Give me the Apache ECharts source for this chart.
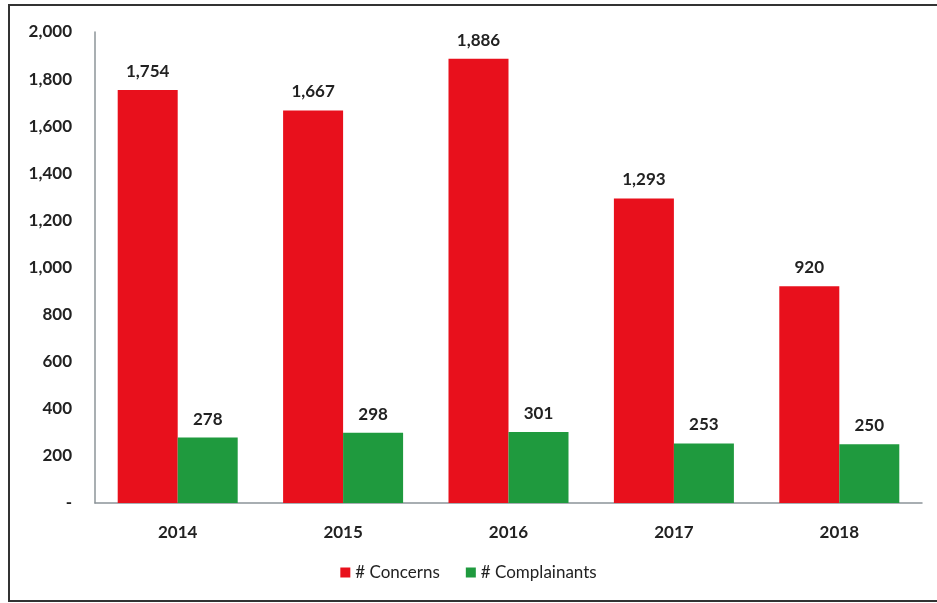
<!DOCTYPE html>
<html>
<head>
<meta charset="utf-8">
<style>
  html, body { margin: 0; padding: 0; background: #fff; }
  #chart { width: 937px; height: 603px; }
</style>
<script src="https://cdn.jsdelivr.net/npm/echarts@6/dist/echarts.min.js"></script>
</head>
<body>
<div id="chart"></div>
<script>
const years = ['2014', '2015', '2016', '2017', '2018'];
const concerns = [1754, 1667, 1886, 1293, 920];
const complainants = [278, 298, 301, 253, 250];
const yTicks = [0, 200, 400, 600, 800, 1000, 1200, 1400, 1600, 1800, 2000];

const FONT = 'Lato, "Open Sans", "Liberation Sans", sans-serif';
const chart = echarts.init(document.getElementById('chart'));

function fmt(v) {
  return v === 0 ? '-' : v.toLocaleString('en-US');
}

const labelStyle = {
  show: true,
  position: 'top',
  distance: 10,
  fontFamily: FONT,
  fontSize: 17,
  fontWeight: 'bold',
  color: '#222',
  formatter: p => fmt(p.value)
};

chart.setOption({
  animation: false,
  backgroundColor: '#fff',
  graphic: [{
    type: 'rect',
    shape: { x: 9, y: 5, width: 940, height: 596 },
    style: { fill: 'none', stroke: '#333', lineWidth: 2 },
    silent: true,
    z: -1
  }],
  grid: { left: 95, right: 15, top: 32, bottom: 100, containLabel: false },
  legend: {
    bottom: 17,
    left: 'center',
    itemWidth: 10,
    itemHeight: 10,
    itemGap: 26,
    icon: 'rect',
    textStyle: { fontFamily: FONT, fontSize: 17, color: '#222' },
    data: ['# Concerns', '# Complainants']
  },
  xAxis: {
    type: 'category',
    data: years,
    axisLine: { lineStyle: { color: '#8c9499', width: 1.5 } },
    axisTick: { show: false },
    axisLabel: { fontFamily: FONT, fontSize: 17, fontWeight: 'bold', color: '#222', margin: 21 }
  },
  yAxis: {
    type: 'value',
    min: yTicks[0],
    max: yTicks[yTicks.length - 1],
    interval: yTicks[1] - yTicks[0],
    axisLine: { show: true, lineStyle: { color: '#8c9499', width: 1.5 } },
    axisTick: { show: false },
    splitLine: { show: false },
    axisLabel: {
      fontFamily: FONT, fontSize: 17, fontWeight: 'bold', color: '#222', margin: 23,
      formatter: v => fmt(v)
    }
  },
  series: [
    {
      name: '# Concerns',
      type: 'bar',
      data: concerns,
      barWidth: 60,
      barGap: '0%',
      itemStyle: { color: '#e8101c' },
      label: labelStyle
    },
    {
      name: '# Complainants',
      type: 'bar',
      data: complainants,
      barWidth: 60,
      barGap: '0%',
      itemStyle: { color: '#1f9a3e' },
      label: labelStyle
    }
  ]
});
</script>
</body>
</html>
